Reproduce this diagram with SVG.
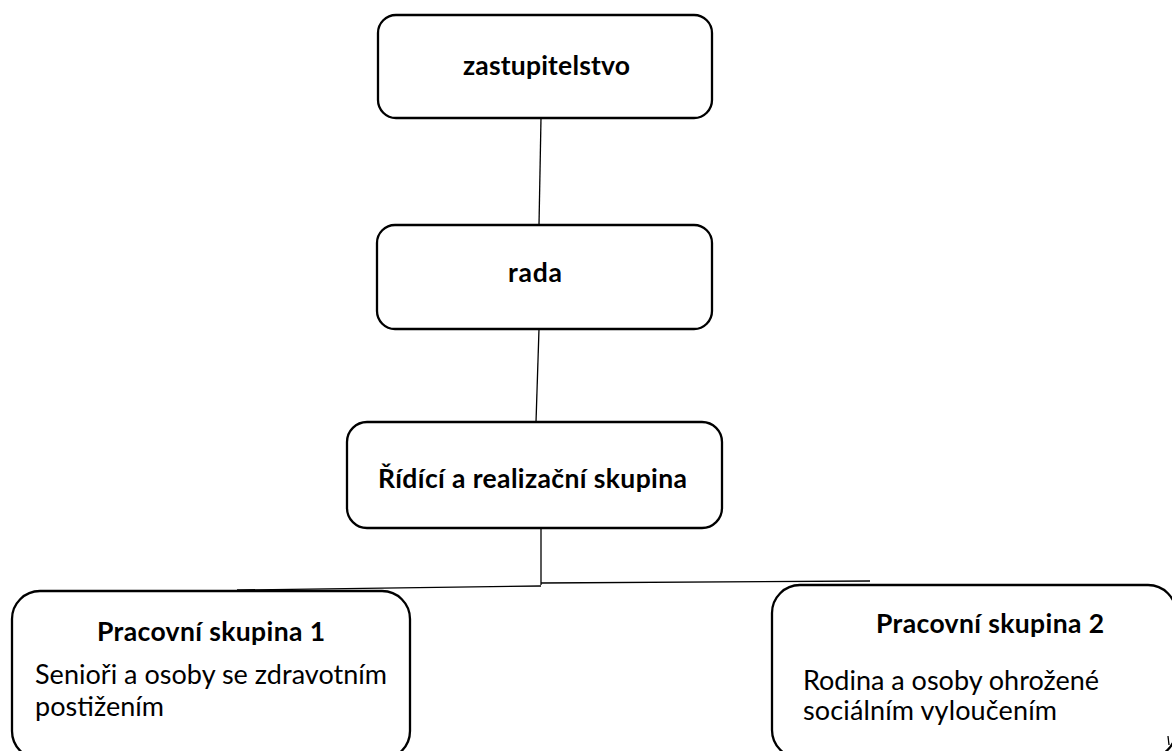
<svg xmlns="http://www.w3.org/2000/svg" width="1172" height="751" viewBox="0 0 1172 751">
  <style>
    .box { fill: #ffffff; stroke: #000000; stroke-width: 2.3; }
    .conn { fill: none; stroke: #000000; stroke-width: 1.3; }
    .h { font-family: "Lato", "Open Sans", "Liberation Sans", sans-serif; font-weight: bold; font-size: 26.5px; fill: #000000; }
    .t { font-family: "Lato", "Open Sans", "Liberation Sans", sans-serif; font-size: 27px; fill: #000000; }
  </style>
  <rect width="1172" height="751" fill="#ffffff"/>
  <g id="connectors">
    <path class="conn" d="M541 118 L539 225"/>
    <path class="conn" d="M539 329 L536 422"/>
    <path class="conn" d="M541 528 L541 585"/>
    <path class="conn" d="M541 586 L237 590"/>
    <path class="conn" d="M541 583 L870 581"/>
  </g>
  <g id="node-zastupitelstvo">
    <rect class="box" x="378" y="15" width="334" height="103" rx="18" ry="18"/>
    <text class="h" x="546.5" y="75" text-anchor="middle" textLength="167">zastupitelstvo</text>
  </g>
  <g id="node-rada">
    <rect class="box" x="377" y="225" width="335" height="104" rx="18" ry="18"/>
    <text class="h" x="535" y="282" text-anchor="middle" textLength="54">rada</text>
  </g>
  <g id="node-ridici">
    <rect class="box" x="347" y="422" width="375" height="106" rx="20" ry="20"/>
    <text class="h" x="532.5" y="488" text-anchor="middle" textLength="309">Řídící a realizační skupina</text>
  </g>
  <g id="node-ps1">
    <rect class="box" x="12" y="591" width="398" height="168" rx="28" ry="28"/>
    <text class="h" x="211" y="641" text-anchor="middle" textLength="228">Pracovní skupina 1</text>
    <text class="t" x="35" y="684" textLength="352">Senioři a osoby se zdravotním</text>
    <text class="t" x="35" y="716" textLength="129">postižením</text>
  </g>
  <g id="node-ps2">
    <rect class="box" x="772" y="585" width="404" height="173" rx="28" ry="28"/>
    <text class="h" x="990" y="633" text-anchor="middle" textLength="228">Pracovní skupina 2</text>
    <text class="t" x="803" y="690" textLength="296">Rodina a osoby ohrožené</text>
    <text class="t" x="803" y="720" textLength="254">sociálním vyloučením</text>
  </g>
  <path d="M1168 736 L1169 745" stroke="#000000" stroke-width="1.3" fill="none"/>
</svg>
